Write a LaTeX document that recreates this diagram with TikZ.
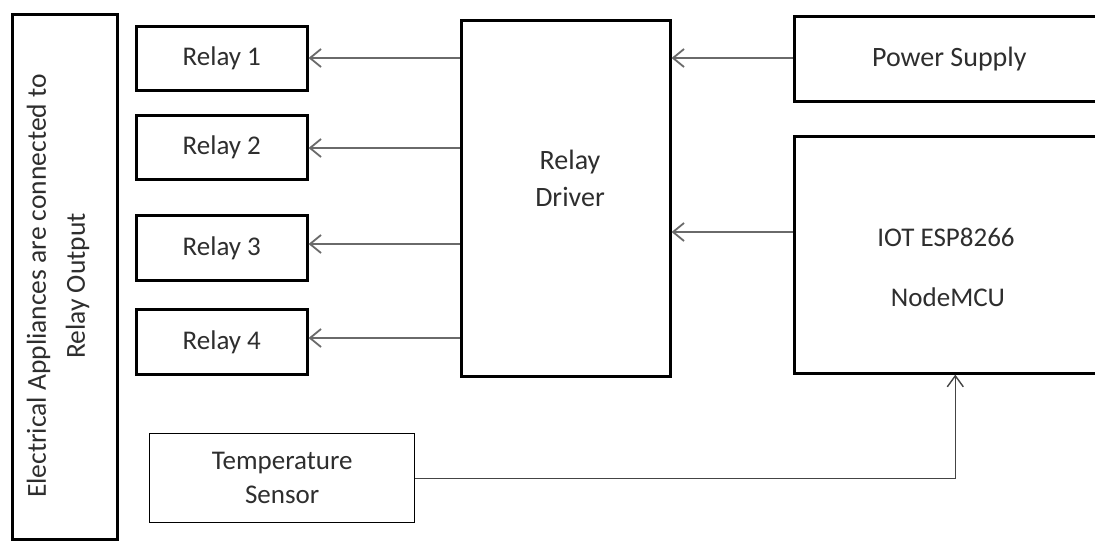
\documentclass[tikz,border=0pt]{standalone}
\usepackage{fontspec}
\setmainfont{Carlito}
\usetikzlibrary{arrows.meta}
\definecolor{txt}{HTML}{2E2E2E}
\definecolor{arrgray}{HTML}{6A6A6A}
\definecolor{arrdark}{HTML}{444444}
\begin{document}
\begin{tikzpicture}[x=1pt,y=-1pt,
  box/.style={draw=black, line width=2.6pt, rectangle, inner sep=0pt, anchor=north west},
  thinbox/.style={box, line width=1.4pt},
  lbl/.style={text=txt, font=\fontsize{27}{37}\selectfont, align=center},
  arr/.style={draw=arrgray, line width=2.4pt, -{Straight Barb[length=11pt,width=18pt,line width=1.8pt]}},
  arrthin/.style={draw=arrdark, line width=1.4pt, -{Straight Barb[length=11pt,width=16pt,line width=1.4pt]}},
]
\useasboundingbox (0,0) rectangle (1095,541);
\fill[white] (0,0) rectangle (1095,541);

% left tall box
\node[box, minimum width=105pt, minimum height=525pt] (app) at (11,13) {};
\node[lbl, rotate=90, font=\fontsize{27.5}{39}\selectfont] (apptxt) at (58,286) {Electrical Appliances are connected to\\Relay Output};

% relays
\node[box, minimum width=171pt, minimum height=64pt, lbl] (r1) at (135,25) {Relay 1};
\node[box, minimum width=171pt, minimum height=64pt, lbl] (r2) at (135,114) {Relay 2};
\node[box, minimum width=171pt, minimum height=65pt, lbl] (r3) at (135,214) {Relay 3};
\node[box, minimum width=171pt, minimum height=65pt, lbl] (r4) at (135,308) {Relay 4};

% relay driver
\node[box, minimum width=209pt, minimum height=356pt] (drv) at (460,19) {};
\node[lbl, font=\fontsize{28}{37}\selectfont] (drvtxt) at (570,178) {Relay\\Driver};

% power supply
\node[box, minimum width=310pt, minimum height=85pt, lbl, font=\fontsize{28}{37}\selectfont] (pw) at (793,15) {Power Supply};

% NodeMCU
\node[box, minimum width=308pt, minimum height=237pt] (mcu) at (793,135) {};
\node[lbl] (mcutxt1) at (946,237) {IOT ESP8266};
\node[lbl] (mcutxt2) at (948,297) {NodeMCU};

% temperature sensor
\node[thinbox, minimum width=265pt, minimum height=89pt, lbl, font=\fontsize{27}{34}\selectfont] (ts) at (149,433) {Temperature\\Sensor};

% connectors
\coordinate (y1) at (0,58);
\coordinate (y2) at (0,148);
\coordinate (y3) at (0,244);
\coordinate (y4) at (0,338);
\coordinate (ym) at (0,232);
\draw[arr] (drv.west |- y1) -- (r1.east |- y1);
\draw[arr] (drv.west |- y2) -- (r2.east |- y2);
\draw[arr] (drv.west |- y3) -- (r3.east |- y3);
\draw[arr] (drv.west |- y4) -- (r4.east |- y4);
\draw[arr] (pw.west |- y1) -- (drv.east |- y1);
\draw[arr] (mcu.west |- ym) -- (drv.east |- ym);
\draw[arrthin] (ts.east) -| ([xshift=7pt]mcu.south);
\end{tikzpicture}
\end{document}
